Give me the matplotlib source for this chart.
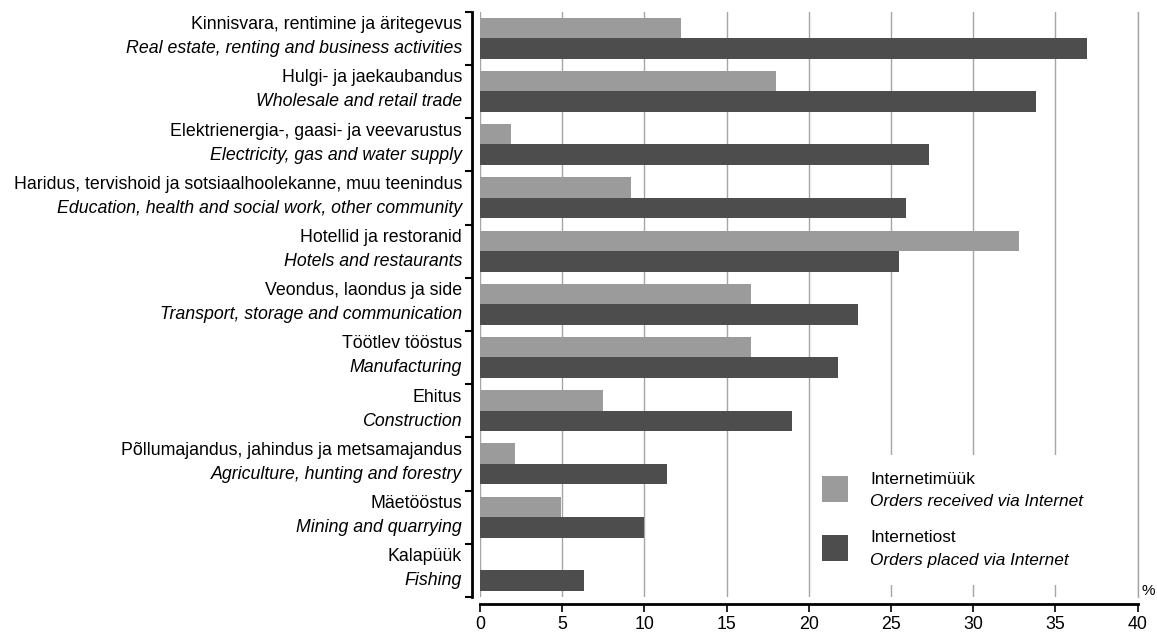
import numpy as np
import matplotlib
matplotlib.use("Agg")
import matplotlib.pyplot as plt
import matplotlib.transforms as mtrans
from matplotlib.patches import Rectangle

plt.rcParams['font.family'] = ['Liberation Sans', 'DejaVu Sans']

labels_et = ["Kinnisvara, rentimine ja äritegevus", "Hulgi- ja jaekaubandus",
             "Elektrienergia-, gaasi- ja veevarustus",
             "Haridus, tervishoid ja sotsiaalhoolekanne, muu teenindus",
             "Hotellid ja restoranid", "Veondus, laondus ja side", "Töötlev tööstus",
             "Ehitus", "Põllumajandus, jahindus ja metsamajandus", "Mäetööstus", "Kalapüük"]
labels_en = ["Real estate, renting and business activities", "Wholesale and retail trade",
             "Electricity, gas and water supply",
             "Education, health and social work, other community",
             "Hotels and restaurants", "Transport, storage and communication", "Manufacturing",
             "Construction", "Agriculture, hunting and forestry", "Mining and quarrying", "Fishing"]
received = [12.2, 18.0, 1.9, 9.2, 32.8, 16.5, 16.5, 7.5, 2.1, 4.9, np.nan]
placed = [36.9, 33.8, 27.3, 25.9, 25.5, 23.0, 21.8, 19.0, 11.4, 10.0, 6.3]
legend_et = ["Internetimüük", "Internetiost"]
legend_en = ["Orders received via Internet", "Orders placed via Internet"]
xticks = [0, 5, 10, 15, 20, 25, 30, 35, 40]

FS = 12.75
c_light = "#9b9b9b"
c_dark = "#4d4d4d"
W, H = 1157, 632
fig = plt.figure(figsize=(W / 100, H / 100), dpi=100)
ax = fig.add_axes([480 / W, 1 - 597 / H, (1137.5 - 480) / W, (597 - 11.7) / H])

y = np.arange(len(labels_et))
ax.barh(y - 0.195, received, height=0.38, color=c_light, zorder=3)
ax.barh(y + 0.19, placed, height=0.39, color=c_dark, zorder=3)

ax.set_xlim(0, 40)
ax.set_ylim(len(labels_et) - 0.5, -0.5)
ax.set_xticks(xticks)
ax.set_xticklabels([str(t) for t in xticks])
ax.set_yticks(np.arange(-0.5, len(labels_et) + 0.5, 1))
ax.set_yticklabels([])
ax.grid(axis='x', color='#a6a6a6', lw=1, zorder=0)
ax.tick_params(axis='x', direction='out', length=6, width=1.2, pad=3, colors='black',
               labelsize=FS)
ax.tick_params(axis='y', direction='out', length=5, width=1.5, colors='black')
ax.spines['top'].set_visible(False)
ax.spines['right'].set_color('#a6a6a6')
ax.spines['right'].set_linewidth(1)
ax.spines['left'].set_linewidth(2)
ax.spines['left'].set_position(('outward', 6))
ax.spines['bottom'].set_linewidth(2)
ax.spines['bottom'].set_position(('outward', 5))

trans = mtrans.blended_transform_factory(ax.transAxes, ax.transData)
off = -18 / (1137.5 - 480)
for i, (a, b) in enumerate(zip(labels_et, labels_en)):
    ax.text(off, i - 0.255, a, transform=trans, ha='right', va='center', fontsize=FS)
    ax.text(off, i + 0.195, b, transform=trans, ha='right', va='center', fontsize=FS,
            style='italic')

# legend (drawn manually for mixed styles)
def fx(px):
    return px / W

def fy(py):
    return 1 - py / H

ax.add_patch(Rectangle((fx(815), fy(585)), fx(1130) - fx(815), fy(455) - fy(585),
                       transform=fig.transFigure, facecolor='white', edgecolor='none',
                       zorder=2, clip_on=False))
cols = [c_light, c_dark]
sq_tops = [476, 535]
for k in range(2):
    ax.add_patch(Rectangle((fx(822), fy(sq_tops[k] + 26)), fx(848) - fx(822), fy(0) - fy(26),
                           transform=fig.transFigure, facecolor=cols[k], edgecolor='none',
                           zorder=4, clip_on=False))
    fig.text(fx(870), fy(sq_tops[k] + 3), legend_et[k], ha='left', va='center', fontsize=FS - 0.3)
    fig.text(fx(870), fy(sq_tops[k] + 26), legend_en[k], ha='left', va='center', fontsize=FS - 0.3,
             style='italic')

fig.text(fx(1155), fy(591), "%", ha='right', va='center', fontsize=11)

fig.savefig("out.png", dpi=100)
